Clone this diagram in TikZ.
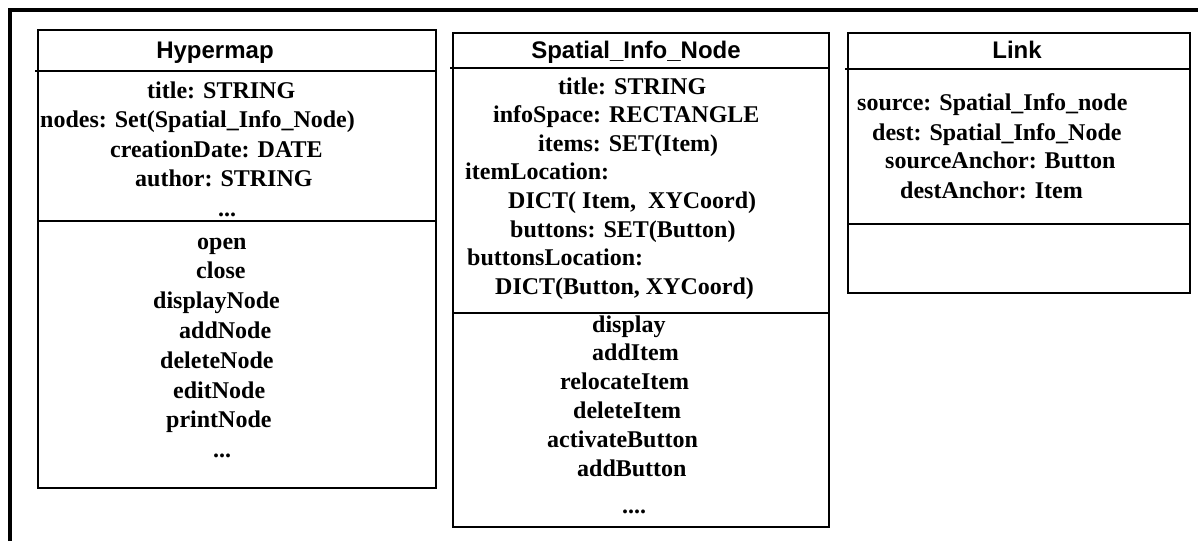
\documentclass[tikz,border=0pt]{standalone}
\usepackage{fontspec}
\setmainfont{Liberation Serif}
\newfontfamily\hdfont{Liberation Sans}
\tikzset{
  boxline/.style={line width=2.5pt, line cap=rect},
  frameline/.style={line width=4pt},
  attr/.style={font=\fontsize{24}{28}\selectfont\bfseries, anchor=base west, inner sep=0pt},
  ttl/.style={font=\hdfont\fontsize{24}{28}\selectfont\bfseries, anchor=base, inner sep=0pt}
}
\begin{document}
\begin{tikzpicture}[x=1pt,y=-1pt]
\useasboundingbox (0,0) rectangle (1198,541);
\fill[white] (0,0) rectangle (1198,541);
% outer frame (clipped at right and bottom)
\draw[frameline] (10,541) -- (10,10) -- (1198,10);

% Hypermap box
\draw[boxline] (38,30) rectangle (436,488);
\draw[boxline] (36,71) -- (436,71);
\draw[boxline] (38,221) -- (436,221);
% Spatial_Info_Node box
\draw[boxline] (453,33) rectangle (829,527);
\draw[boxline] (451,68) -- (829,68);
\draw[boxline] (453,313) -- (829,313);
% Link box
\draw[boxline] (848,33) rectangle (1190,293);
\draw[boxline] (846,69) -- (1190,69);
\draw[boxline] (848,224) -- (1190,224);

% titles
\node[ttl] (hmT) at (215,58) {Hypermap};
\node[ttl] (sinT) at (636,58) {Spatial\_Info\_Node};
\node[ttl] (lkT) at (1017,58) {Link};

% Hypermap attributes
\node[attr] (h1) at (147,98) {title: STRING};
\node[attr] (h2) at (40,127) {nodes: Set(Spatial\_Info\_Node)};
\node[attr] (h3) at (110,157) {creationDate: DATE};
\node[attr] (h4) at (135,186) {author: STRING};
\node[attr] (h5) at (218,216) {...};
% Hypermap operations
\node[attr] (ho1) at (197,249) {open};
\node[attr] (ho2) at (196,278) {close};
\node[attr] (ho3) at (153,308) {displayNode};
\node[attr] (ho4) at (179,338) {addNode};
\node[attr] (ho5) at (160,368) {deleteNode};
\node[attr] (ho6) at (173,398) {editNode};
\node[attr] (ho7) at (166,427) {printNode};
\node[attr] (ho8) at (213,457) {...};

% Spatial_Info_Node attributes
\node[attr] (s1) at (558,94) {title: STRING};
\node[attr] (s2) at (493,122) {infoSpace: RECTANGLE};
\node[attr] (s3) at (538,151) {items: SET(Item)};
\node[attr] (s4) at (465,179) {itemLocation:};
\node[attr] (s5) at (508,208) {DICT( Item,\ \ XYCoord)};
\node[attr] (s6) at (510,237) {buttons: SET(Button)};
\node[attr] (s7) at (467,265) {buttonsLocation:};
\node[attr] (s8) at (495,294) {DICT(Button, XYCoord)};
% Spatial_Info_Node operations
\node[attr] (so1) at (592,332) {display};
\node[attr] (so2) at (592,360) {addItem};
\node[attr] (so3) at (560,389) {relocateItem};
\node[attr] (so4) at (573,418) {deleteItem};
\node[attr] (so5) at (547,447) {activateButton};
\node[attr] (so6) at (577,476) {addButton};
\node[attr] (so7) at (622,513) {....};

% Link attributes
\node[attr] (l1) at (857,110) {source: Spatial\_Info\_node};
\node[attr] (l2) at (872,140) {dest: Spatial\_Info\_Node};
\node[attr] (l3) at (885,168) {sourceAnchor: Button};
\node[attr] (l4) at (900,198) {destAnchor: Item};
\end{tikzpicture}
\end{document}
